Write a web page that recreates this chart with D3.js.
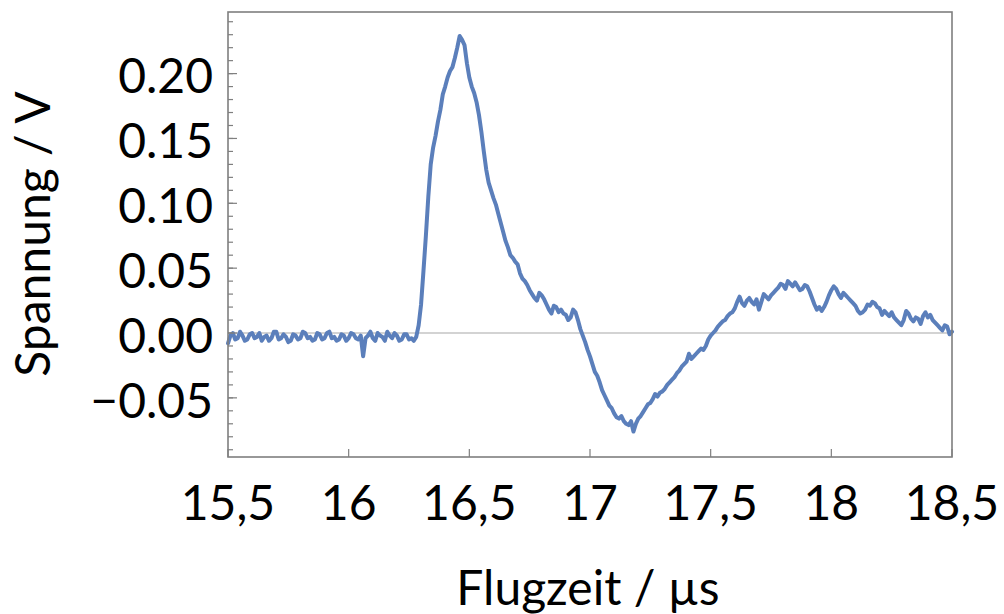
<!DOCTYPE html>
<html>
<head>
<meta charset="utf-8">
<script src="https://cdn.jsdelivr.net/npm/d3@7"></script>
<style>
  html, body { margin: 0; padding: 0; background: #fff; }
  svg { display: block; }
  text { font-family: Lato, "Open Sans", sans-serif; fill: #000; }
</style>
</head>
<body>
<svg id="chart" width="1004" height="614"></svg>
<script>
// Time-of-flight signal, sampled every 0.01 µs from 15.5 µs to 18.5 µs
const tStart = 15.5;
const tStep = 0.01;
const voltage = [
  -0.008, -0.002, 0.000, -0.005, -0.004, 0.001, -0.002, -0.006, -0.005, -0.001,
   0.000, -0.004, -0.003, 0.000, -0.006, -0.003, -0.002, -0.006, -0.004, 0.001,
   0.001, -0.005, -0.004, -0.001, -0.003, -0.007, -0.006, -0.001, -0.002, -0.005,
  -0.004, 0.001, 0.000, -0.004, -0.003, -0.006, -0.005, 0.000, -0.001, -0.005,
  -0.004, 0.000, 0.001, -0.004, -0.003, -0.006, -0.005, -0.001, -0.002, -0.006,
  -0.004, 0.000, -0.001, -0.004, -0.005, -0.002, -0.018, -0.004, -0.002, 0.001,
  -0.004, -0.006, 0.000, -0.002, -0.003, -0.006, 0.001, -0.002, -0.004, 0.000,
  -0.002, -0.006, -0.005, -0.001, -0.001, -0.005, -0.004, -0.006, -0.003, 0.006,
   0.022, 0.048, 0.075, 0.105, 0.130, 0.143, 0.152, 0.163, 0.172, 0.184,
   0.190, 0.197, 0.202, 0.205, 0.212, 0.220, 0.229, 0.226, 0.222, 0.208,
   0.197, 0.190, 0.185, 0.178, 0.168, 0.155, 0.140, 0.126, 0.116, 0.110,
   0.104, 0.099, 0.092, 0.085, 0.078, 0.071, 0.066, 0.060, 0.058, 0.055,
   0.053, 0.046, 0.042, 0.040, 0.037, 0.033, 0.030, 0.027, 0.025, 0.031,
   0.029, 0.026, 0.022, 0.018, 0.015, 0.021, 0.020, 0.016, 0.018, 0.015,
   0.014, 0.010, 0.012, 0.018, 0.016, 0.010, 0.003, -0.002, -0.007, -0.013,
  -0.018, -0.024, -0.030, -0.033, -0.038, -0.044, -0.048, -0.052, -0.056, -0.058,
  -0.062, -0.065, -0.066, -0.064, -0.068, -0.070, -0.071, -0.068, -0.076, -0.070,
  -0.066, -0.064, -0.061, -0.058, -0.055, -0.054, -0.051, -0.047, -0.049, -0.046,
  -0.045, -0.043, -0.040, -0.038, -0.036, -0.034, -0.031, -0.029, -0.026, -0.024,
  -0.022, -0.016, -0.020, -0.018, -0.016, -0.014, -0.012, -0.013, -0.010, -0.005,
  -0.002, 0.000, 0.002, 0.005, 0.007, 0.009, 0.010, 0.013, 0.015, 0.016,
   0.019, 0.024, 0.028, 0.023, 0.021, 0.025, 0.027, 0.024, 0.022, 0.026,
   0.018, 0.024, 0.030, 0.028, 0.026, 0.029, 0.031, 0.033, 0.035, 0.038,
   0.037, 0.034, 0.040, 0.038, 0.036, 0.039, 0.036, 0.033, 0.034, 0.037,
   0.036, 0.032, 0.027, 0.022, 0.018, 0.020, 0.017, 0.020, 0.024, 0.029,
   0.033, 0.036, 0.034, 0.030, 0.027, 0.031, 0.029, 0.027, 0.025, 0.023,
   0.021, 0.017, 0.015, 0.016, 0.018, 0.022, 0.021, 0.024, 0.023, 0.020,
   0.019, 0.014, 0.017, 0.015, 0.013, 0.016, 0.012, 0.010, 0.008, 0.006,
   0.010, 0.017, 0.015, 0.011, 0.009, 0.012, 0.011, 0.007, 0.013, 0.016,
   0.012, 0.014, 0.010, 0.008, 0.006, 0.004, 0.002, 0.006, 0.005, -0.001,
   0.001
];

// Axis ranges and tick labels
const xDomain = [15.5, 18.5];
const yDomain = [-0.0956, 0.2475];
const xTicks = [15.5, 16, 16.5, 17, 17.5, 18, 18.5];
const xTickLabels = ["15,5", "16", "16,5", "17", "17,5", "18", "18,5"];
const yTicks = [-0.05, 0, 0.05, 0.10, 0.15, 0.20];
const yTickLabels = ["\u22120.05", "0.00", "0.05", "0.10", "0.15", "0.20"];
const yMinorTicks = d3.range(-9, 25).map(i => i / 100);

const xTitle = "Flugzeit / \u00b5s";
const yTitle = "Spannung / V";

const samples = voltage.map((v, i) => ({ t: tStart + i * tStep, v }));

const frame = { left: 228, right: 952, top: 12, bottom: 457 };

const svg = d3.select("#chart");

const x = d3.scaleLinear().domain(xDomain).range([frame.left, frame.right]);
const y = d3.scaleLinear().domain(yDomain).range([frame.bottom, frame.top]);

const frameColor = "#7f7f7f";

// zero reference line
svg.append("line")
  .attr("x1", frame.left).attr("x2", frame.right)
  .attr("y1", y(0)).attr("y2", y(0))
  .attr("stroke", "#c4c4c4").attr("stroke-width", 1.3);

// signal trace
const line = d3.line().x(d => x(d.t)).y(d => y(d.v));
svg.append("path")
  .datum(samples)
  .attr("d", line)
  .attr("fill", "none")
  .attr("stroke", "#5b7fbb")
  .attr("stroke-width", 4)
  .attr("stroke-linejoin", "round")
  .attr("stroke-linecap", "round");

// y ticks (inward): minor then major
const gy = svg.append("g");
gy.selectAll("line.minor").data(yMinorTicks).join("line")
  .attr("class", "minor")
  .attr("x1", frame.left).attr("x2", frame.left + 5)
  .attr("y1", d => y(d)).attr("y2", d => y(d))
  .attr("stroke", frameColor).attr("stroke-width", 1.2);
gy.selectAll("line.major").data(yTicks).join("line")
  .attr("class", "major")
  .attr("x1", frame.left).attr("x2", frame.left + 9)
  .attr("y1", d => y(d)).attr("y2", d => y(d))
  .attr("stroke", frameColor).attr("stroke-width", 1.2);
gy.selectAll("text").data(yTicks).join("text")
  .attr("x", 213)
  .attr("y", d => y(d))
  .attr("dy", "0.41em")
  .attr("text-anchor", "end")
  .style("font-size", "48px")
  .text((d, i) => yTickLabels[i]);

// x ticks (inward)
const gx = svg.append("g");
gx.selectAll("line").data(xTicks).join("line")
  .attr("x1", d => x(d)).attr("x2", d => x(d))
  .attr("y1", frame.bottom).attr("y2", frame.bottom - 8)
  .attr("stroke", frameColor).attr("stroke-width", 1.2);
gx.selectAll("text").data(xTicks).join("text")
  .attr("x", d => x(d))
  .attr("y", 520)
  .attr("text-anchor", "middle")
  .style("font-size", "48px")
  .text((d, i) => xTickLabels[i]);

// frame
svg.append("rect")
  .attr("x", frame.left).attr("y", frame.top)
  .attr("width", frame.right - frame.left)
  .attr("height", frame.bottom - frame.top)
  .attr("fill", "none")
  .attr("stroke", frameColor)
  .attr("stroke-width", 1.6);

// axis titles
svg.append("text")
  .attr("x", 588).attr("y", 605)
  .attr("text-anchor", "middle")
  .style("font-size", "48px")
  .text(xTitle);

svg.append("text")
  .attr("transform", "translate(50,234) rotate(-90)")
  .attr("text-anchor", "middle")
  .style("font-size", "48px")
  .text(yTitle);
</script>
</body>
</html>
